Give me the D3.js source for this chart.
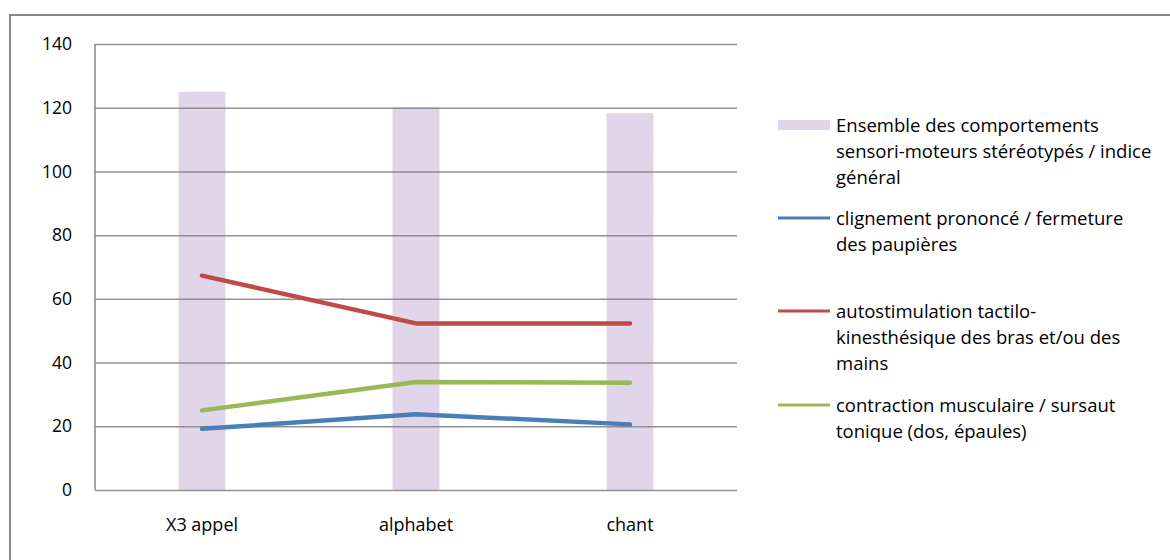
<!DOCTYPE html>
<html><head><meta charset="utf-8">
<script src="https://cdn.jsdelivr.net/npm/d3@7"></script>
<style>body{margin:0;background:#fff}svg{display:block}text{font-family:"Open Sans",sans-serif;fill:#000}</style>
</head><body><svg id="c" width="1170" height="560"></svg>
<script>
const categories = ["X3 appel","alphabet","chant"];
const barValues = [125, 120.2, 118.3];
const blinkValues = [19.2, 23.8, 20.6];
const autoValues = [67.3, 52.3, 52.3];
const contractValues = [25.0, 33.9, 33.7];
const yTicks = [0,20,40,60,80,100,120,140];
const legendLabels = [
  ["Ensemble des comportements","sensori-moteurs stéréotypés / indice","général"],
  ["clignement prononcé / fermeture","des paupières"],
  ["autostimulation tactilo-","kinesthésique des bras et/ou des","mains"],
  ["contraction musculaire / sursaut","tonique (dos, épaules)"]
];
const colors = {bar:"#e1d5ea", blink:"#4a7ebb", auto:"#be4b48", contract:"#98b954"};
const FS = 17.5, LFS = 18.5;

const svg = d3.select("#c");
svg.append("rect").attr("x",10).attr("y",15).attr("width",1170).attr("height",560)
  .attr("fill","none").attr("stroke","#888").attr("stroke-width",2);

const L=95,R=737,T=44,B=490;
const x = d3.scaleBand().domain(categories).range([L,R]);
const y = d3.scaleLinear().domain([0,140]).range([B,T]);

const bw = 47;
svg.append("g").selectAll("rect").data(categories).join("rect")
  .attr("x",d=>x(d)+x.bandwidth()/2-bw/2).attr("width",bw)
  .attr("y",(d,i)=>y(barValues[i])).attr("height",(d,i)=>B-y(barValues[i]))
  .attr("fill",colors.bar);

const yAxis = d3.axisLeft(y).tickValues(yTicks).tickSize(-(R-L)).tickPadding(23);
const ga = svg.append("g").attr("transform",`translate(${L},0)`).call(yAxis);
ga.select(".domain").remove();
ga.selectAll(".tick line").attr("stroke","#868686").attr("stroke-width",1.5).attr("stroke-opacity",0.9);
ga.selectAll(".tick text").attr("font-size",FS).attr("font-family","Open Sans");
svg.append("line").attr("x1",L).attr("x2",L).attr("y1",T).attr("y2",B).attr("stroke","#868686").attr("stroke-width",1.5);

const xAxis = d3.axisBottom(x).tickSize(0).tickPadding(28);
const gx = svg.append("g").attr("transform",`translate(0,${B})`).call(xAxis);
gx.select(".domain").remove();
gx.selectAll(".tick text").attr("font-size",18).attr("font-family","Open Sans");

const line = d3.line().x((d,i)=>x(categories[i])+x.bandwidth()/2).y(d=>y(d));
[[autoValues,colors.auto],[contractValues,colors.contract],[blinkValues,colors.blink]].forEach(([v,c])=>{
  svg.append("path").datum(v).attr("d",line).attr("fill","none").attr("stroke",c)
    .attr("stroke-width",4.5).attr("stroke-linecap","round").attr("stroke-linejoin","round");
});

const legY = [125,218,311,405];
const lg = svg.append("g");
legendLabels.forEach((lines,k)=>{
  const yy = legY[k];
  if(k===0){
    lg.append("rect").attr("x",778).attr("y",yy-5).attr("width",52).attr("height",10).attr("fill",colors.bar);
  } else {
    const c = [null,colors.blink,colors.auto,colors.contract][k];
    lg.append("line").attr("x1",778).attr("x2",830).attr("y1",yy).attr("y2",yy).attr("stroke",c).attr("stroke-width",3);
  }
  lines.forEach((t,j)=>{
    lg.append("text").attr("x",836).attr("y",yy+1+j*25.7).attr("dy","0.35em")
      .attr("font-size",LFS).text(t);
  });
});
</script></body></html>
